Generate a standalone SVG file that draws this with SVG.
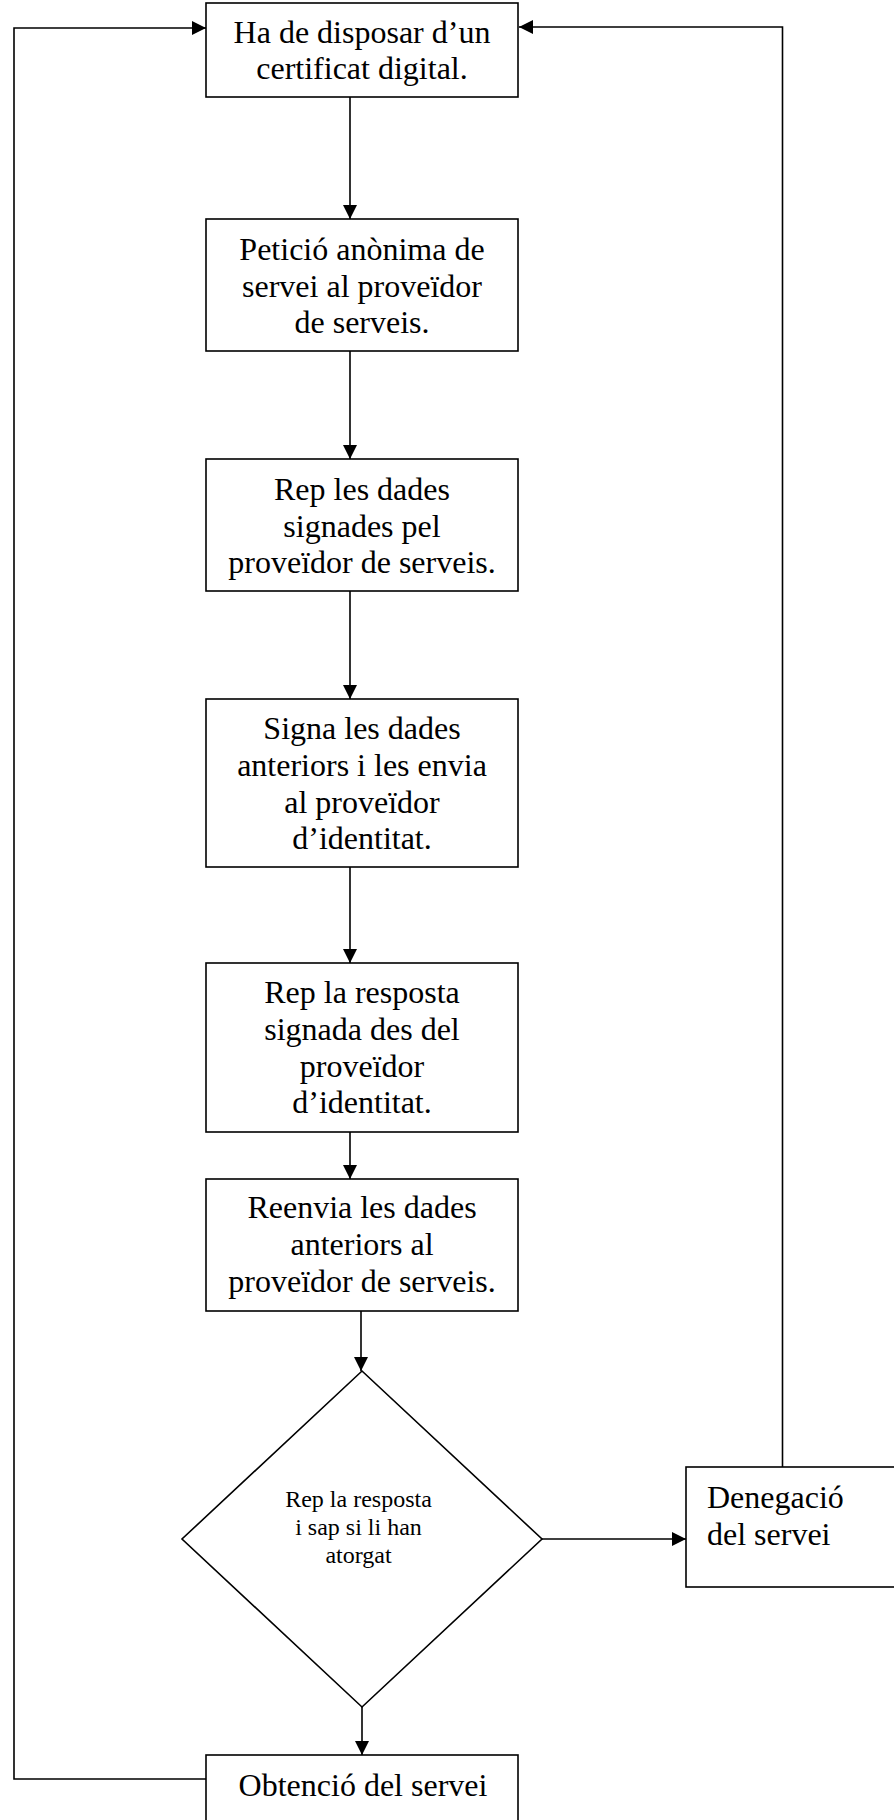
<svg xmlns="http://www.w3.org/2000/svg" width="894" height="1820" viewBox="0 0 894 1820">
<style>
.box{fill:#fff;stroke:#000;stroke-width:1.6}
.t{font-family:"Liberation Serif","Times New Roman",serif;font-size:32px;fill:#000;text-anchor:middle}
.ts{font-family:"Liberation Serif","Times New Roman",serif;font-size:24px;fill:#000;text-anchor:middle}
.tl{font-family:"Liberation Serif","Times New Roman",serif;font-size:32px;fill:#000}
.c{fill:none;stroke:#000;stroke-width:1.6}
</style>
<defs>
<marker id="ah" viewBox="0 0 10 10" refX="10" refY="5" markerUnits="userSpaceOnUse" markerWidth="15" markerHeight="14" orient="auto">
<path d="M0,0 L10,5 L0,10 Z" fill="#000"/>
</marker>
</defs>
<rect width="894" height="1820" fill="#fff"/>
<g id="connectors">
<line class="c" x1="350" y1="97" x2="350" y2="219" marker-end="url(#ah)"/>
<line class="c" x1="350" y1="351" x2="350" y2="459" marker-end="url(#ah)"/>
<line class="c" x1="350" y1="591" x2="350" y2="699" marker-end="url(#ah)"/>
<line class="c" x1="350" y1="867" x2="350" y2="963" marker-end="url(#ah)"/>
<line class="c" x1="350" y1="1132" x2="350" y2="1179" marker-end="url(#ah)"/>
<line class="c" x1="361" y1="1311" x2="361" y2="1371" marker-end="url(#ah)"/>
<line class="c" x1="542" y1="1539" x2="686" y2="1539" marker-end="url(#ah)"/>
<polyline class="c" points="782.5,1467 782.5,27 519,27" marker-end="url(#ah)"/>
<line class="c" x1="362" y1="1707" x2="362" y2="1755" marker-end="url(#ah)"/>
<polyline class="c" points="206,1779 14,1779 14,28 206,28" marker-end="url(#ah)"/>
</g>
<g id="n1">
<rect class="box" x="206" y="3" width="312" height="94"/>
<text class="t" x="362" y="43">Ha de disposar d’un</text>
<text class="t" x="362" y="79">certificat digital.</text>
</g>
<g id="n2">
<rect class="box" x="206" y="219" width="312" height="132"/>
<text class="t" x="362" y="260">Petició anònima de</text>
<text class="t" x="362" y="296.7">servei al proveïdor</text>
<text class="t" x="362" y="333.3">de serveis.</text>
</g>
<g id="n3">
<rect class="box" x="206" y="459" width="312" height="132"/>
<text class="t" x="362" y="500">Rep les dades</text>
<text class="t" x="362" y="536.7">signades pel</text>
<text class="t" x="362" y="573.3">proveïdor de serveis.</text>
</g>
<g id="n4">
<rect class="box" x="206" y="699" width="312" height="168"/>
<text class="t" x="362" y="739.3">Signa les dades</text>
<text class="t" x="362" y="776">anteriors i les envia</text>
<text class="t" x="362" y="812.7">al proveïdor</text>
<text class="t" x="362" y="849.3">d’identitat.</text>
</g>
<g id="n5">
<rect class="box" x="206" y="963" width="312" height="169"/>
<text class="t" x="362" y="1003.3">Rep la resposta</text>
<text class="t" x="362" y="1040">signada des del</text>
<text class="t" x="362" y="1076.7">proveïdor</text>
<text class="t" x="362" y="1113.3">d’identitat.</text>
</g>
<g id="n6">
<rect class="box" x="206" y="1179" width="312" height="132"/>
<text class="t" x="362" y="1218.3">Reenvia les dades</text>
<text class="t" x="362" y="1255">anteriors al</text>
<text class="t" x="362" y="1291.7">proveïdor de serveis.</text>
</g>
<g id="decision">
<polygon class="box" points="362,1371 542,1539 362,1707 182,1539"/>
<text class="ts" x="358.5" y="1506.7">Rep la resposta</text>
<text class="ts" x="358.5" y="1535">i sap si li han</text>
<text class="ts" x="358.5" y="1562.7">atorgat</text>
</g>
<g id="denegacio">
<rect class="box" x="686" y="1467" width="220" height="120"/>
<text class="tl" x="707" y="1507.7">Denegació</text>
<text class="tl" x="707" y="1545">del servei</text>
</g>
<g id="obtencio">
<rect class="box" x="206" y="1755" width="312" height="80"/>
<text class="t" x="363" y="1796">Obtenció del servei</text>
</g>
</svg>
